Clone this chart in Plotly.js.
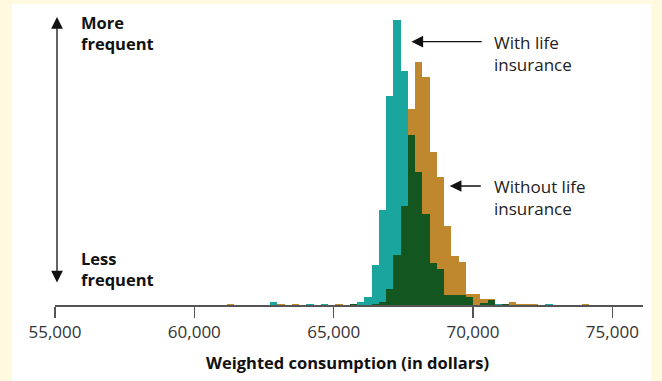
<!DOCTYPE html>
<html>
<head>
<meta charset="utf-8">
<script src="https://cdn.plot.ly/plotly-3.0.1.min.js"></script>
<style>
  html, body { margin: 0; padding: 0; background: #FFF9E0; }
  #chart { width: 662px; height: 381px; }
</style>
</head>
<body>
<div id="chart"></div>
<script>
// Bin centres (dollars) of the weighted-consumption histogram
const binCenters = [61290, 62850, 63110, 63630, 64150, 64670, 65190, 65710,
  65970, 66230, 66490, 66750, 67010, 67270, 67530, 67790, 68050, 68310,
  68570, 68830, 69090, 69350, 69610, 69870, 70130, 70390, 70650, 70910,
  71170, 71430, 71690, 71950, 72210, 72730, 74030];
// Relative frequency, with life insurance
const withIns = [0, 3, 0, 0, 1, 1, 0, 1,
  3, 8, 40, 95, 209, 285, 234, 170, 133, 91,
  42, 36, 10, 10, 10, 8, 0, 2, 5, 1,
  1, 0, 0, 0, 0, 1, 0];
// Relative frequency, without life insurance
const withoutIns = [1, 0, 1, 1, 0, 0, 1, 1,
  0, 0, 1, 3, 16, 50, 99, 196, 243, 228,
  153, 128, 79, 49, 43, 11, 11, 6, 6, 0,
  1, 3, 1, 1, 1, 0, 1];
const tickVals = [55000, 60000, 65000, 70000, 75000];
const tickText = ['55,000', '60,000', '65,000', '70,000', '75,000'];

const binWidth = 260;
const overlap = withIns.map((v, i) => Math.min(v, withoutIns[i]));

const FONT = 'Open Sans, Noto Sans, sans-serif';
const teal = '#1AA59E', orange = '#C0882E', dark = '#13561F';

function barTrace(y, color, name) {
  return {
    type: 'bar', x: binCenters, y: y, name: name,
    width: binCenters.map(() => binWidth),
    marker: { color: color, line: { width: 0 } },
    hoverinfo: 'skip', showlegend: false
  };
}

const data = [
  barTrace(withIns, teal, 'With life insurance'),
  barTrace(withoutIns, orange, 'Without life insurance'),
  barTrace(overlap, dark, 'Overlap')
];

const arrowCommon = {
  showarrow: true, text: '', arrowhead: 2, arrowsize: 1.8, arrowwidth: 1.3,
  arrowcolor: '#111', standoff: 0, startstandoff: 0,
  xref: 'x', yref: 'y', axref: 'x', ayref: 'y'
};

const layout = {
  width: 662, height: 381,
  margin: { l: 55, r: 19, t: 5, b: 76 },
  paper_bgcolor: '#FFF9E0',
  plot_bgcolor: 'rgba(0,0,0,0)',
  barmode: 'overlay', bargap: 0,
  xaxis: {
    range: [55000, 76100], tickvals: tickVals, ticktext: tickText,
    ticks: 'outside', ticklen: 11, tickwidth: 1.5, tickcolor: '#555',
    showline: true, linecolor: '#555', linewidth: 1.5,
    showgrid: false, zeroline: false,
    tickfont: { family: FONT, size: 17, color: '#333' }
  },
  yaxis: { range: [0, 300], visible: false, fixedrange: true },
  shapes: [{
    type: 'rect', layer: 'below', xref: 'paper', yref: 'paper',
    x0: -0.0731, x1: 1.0136, y0: -0.26, y1: 1.0033,
    fillcolor: '#FFFFFF', line: { width: 0 }
  }],
  annotations: [
    Object.assign({}, arrowCommon, { x: 55072, y: 288, ax: 55072, ay: 21, arrowside: 'end+start' }),
    Object.assign({}, arrowCommon, { x: 67791, y: 263.3, ax: 70366, ay: 263.3 }),
    Object.assign({}, arrowCommon, { x: 69165, y: 119, ax: 70334, ay: 119 }),
    { x: 55861, y: 272, xref: 'x', yref: 'y', xanchor: 'left', yanchor: 'middle', align: 'left',
      showarrow: false, text: '<b>More<br>frequent</b>', font: { family: FONT, size: 16.5, color: '#111' } },
    { x: 55861, y: 36, xref: 'x', yref: 'y', xanchor: 'left', yanchor: 'middle', align: 'left',
      showarrow: false, text: '<b>Less<br>frequent</b>', font: { family: FONT, size: 16.5, color: '#111' } },
    { x: 70671, y: 252, xref: 'x', yref: 'y', xanchor: 'left', yanchor: 'middle', align: 'left',
      showarrow: false, text: 'With life<br>insurance', font: { family: FONT, size: 17, color: '#222' } },
    { x: 70671, y: 108, xref: 'x', yref: 'y', xanchor: 'left', yanchor: 'middle', align: 'left',
      showarrow: false, text: 'Without life<br>insurance', font: { family: FONT, size: 17, color: '#222' } },
    { x: 0.498, y: -0.19, xref: 'paper', yref: 'paper', xanchor: 'center', yanchor: 'middle',
      showarrow: false, text: '<b>Weighted consumption (in dollars)</b>', font: { family: FONT, size: 16.5, color: '#111' } }
  ]
};

Plotly.newPlot('chart', data, layout, { staticPlot: true, displayModeBar: false });
</script>
</body>
</html>
